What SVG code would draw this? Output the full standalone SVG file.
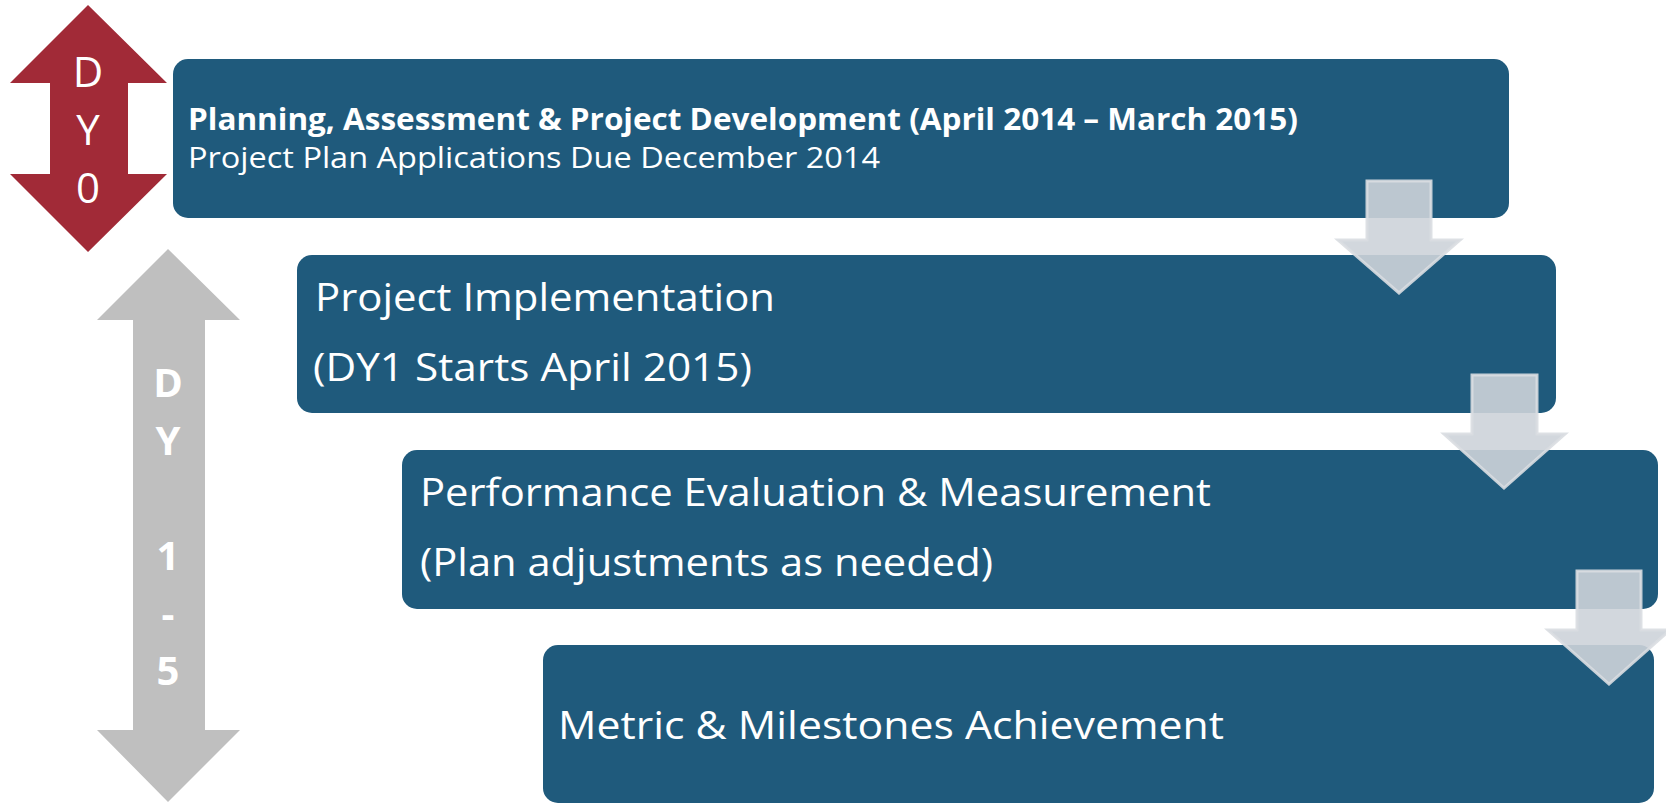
<svg xmlns="http://www.w3.org/2000/svg" width="1666" height="805" viewBox="0 0 1666 805">
<style>
.box{fill:#1f5a7c;}
.t{fill:#ffffff;font-family:"Open Sans","Liberation Sans",sans-serif;}
.big{font-size:38px;}
.small{font-size:30px;}
.b{font-weight:bold;}
.down{fill:#cdd3d9;fill-opacity:0.9;stroke:#d9dde1;stroke-opacity:0.9;stroke-width:3;stroke-linejoin:miter;}
</style>
<rect width="1666" height="805" fill="#ffffff"/>
<g id="dy0">
<polygon points="88,5 167,83 128,83 128,174 167,174 88,252 10,174 50,174 50,83 10,83" fill="#a12a37"/>
<text class="t" font-size="42" text-anchor="middle"><tspan x="88" y="87">D</tspan><tspan x="88" y="145">Y</tspan><tspan x="88" y="203">0</tspan></text>
</g>
<g id="dy15">
<polygon points="168,249 240,320 205,320 205,730 240,730 168,802 97,730 133,730 133,320 97,320" fill="#bfbfbf"/>
<text class="t b" font-size="40" text-anchor="middle"><tspan x="168" y="397">D</tspan><tspan x="168" y="455">Y</tspan><tspan x="168" y="570">1</tspan><tspan x="168" y="628">-</tspan><tspan x="168" y="685">5</tspan></text>
</g>
<g id="box1">
<rect class="box" x="173" y="59" width="1336" height="159" rx="15"/>
<text class="t small b" x="188" y="130" textLength="1110" lengthAdjust="spacingAndGlyphs">Planning, Assessment &amp; Project Development (April 2014 – March 2015)</text>
<text class="t small" x="188" y="168" textLength="692" lengthAdjust="spacingAndGlyphs">Project Plan Applications Due December 2014</text>
</g>
<g id="box2">
<rect class="box" x="297" y="255" width="1259" height="158" rx="15"/>
<text class="t big" x="315" y="311" textLength="460" lengthAdjust="spacingAndGlyphs">Project Implementation</text>
<text class="t big" x="313" y="381" textLength="439" lengthAdjust="spacingAndGlyphs">(DY1 Starts April 2015)</text>
</g>
<g id="box3">
<rect class="box" x="402" y="450" width="1256" height="159" rx="15"/>
<text class="t big" x="420" y="506" textLength="791" lengthAdjust="spacingAndGlyphs">Performance Evaluation &amp; Measurement</text>
<text class="t big" x="420" y="576" textLength="573" lengthAdjust="spacingAndGlyphs">(Plan adjustments as needed)</text>
</g>
<g id="box4">
<rect class="box" x="543" y="645" width="1111" height="158" rx="15"/>
<text class="t big" x="558" y="739" textLength="666" lengthAdjust="spacingAndGlyphs">Metric &amp; Milestones Achievement</text>
</g>
<g id="connectors">
<polygon class="down" points="1367,181 1431,181 1431,240 1460,240 1399,293 1338,240 1367,240"/>
<polygon class="down" points="1472,375 1537,375 1537,434 1565,434 1504,488 1444,434 1472,434"/>
<polygon class="down" points="1577,571 1641,571 1641,630 1670,630 1609,684 1548,630 1577,630"/>
</g>
</svg>
